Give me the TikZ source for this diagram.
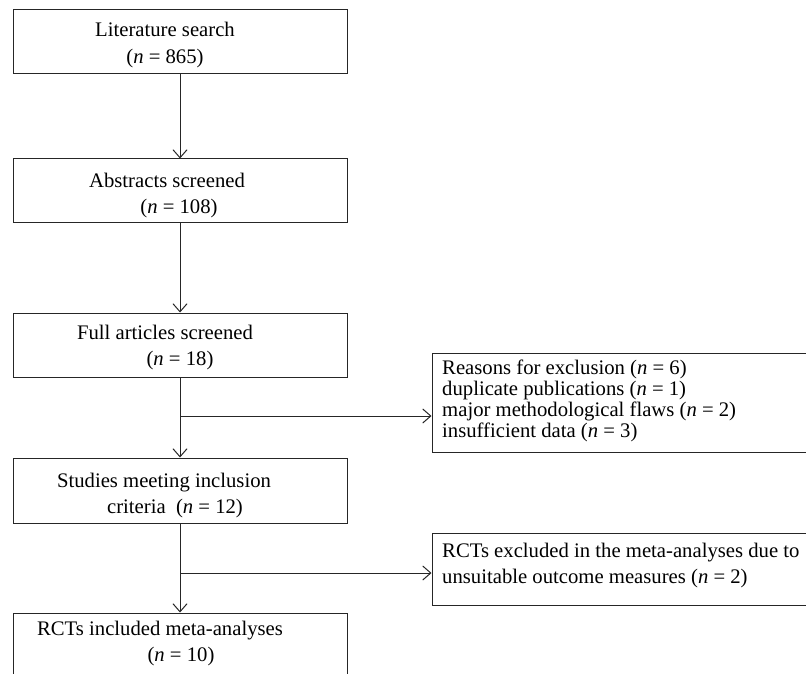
\documentclass[tikz,border=0pt]{standalone}
\usepackage{fontspec}
\setmainfont{Liberation Serif}
\usetikzlibrary{arrows.meta}
\tikzset{
  box/.style={draw=black!85, line width=1pt, inner sep=0pt, minimum width=334pt},
  xbox/.style={draw=black!85, line width=1pt, inner sep=0pt, minimum width=600pt},
  txt/.style={anchor=base, inner sep=0pt, font=\fontsize{20.7}{24}\selectfont},
  ltxt/.style={anchor=base west, inner sep=0pt, font=\fontsize{20.7}{24}\selectfont},
  conn/.style={draw=black!85, line width=1pt},
  arr/.style={conn, -{Straight Barb[length=8pt,width=14pt,line width=1pt]}}
}
\begin{document}
\begin{tikzpicture}[x=1pt,y=-1pt]
\useasboundingbox (0,0) rectangle (806,674);
\clip (0,0) rectangle (806,674);
% main boxes
\node[box, minimum height=64pt] (b1) at (180,42) {};
\node[box, minimum height=63pt] (b2) at (180,190.5) {};
\node[box, minimum height=64pt] (b3) at (180,345) {};
\node[box, minimum height=65pt] (b4) at (180,490.5) {};
\node[box, minimum height=87pt] (b5) at (180,656.5) {};
% side boxes (open to the right, running off the page)
\node[xbox, minimum height=99pt] (r1) at (732,402.5) {};
\node[xbox, minimum height=72pt] (r2) at (732,569) {};
% texts
\node[txt] (t1a) at (165,37) {Literature search};
\node[txt] (t1b) at (165,64) {(\textit{n} = 865)};
\node[txt] (t2a) at (167,187) {Abstracts screened};
\node[txt] (t2b) at (179,213) {(\textit{n} = 108)};
\node[txt] (t3a) at (165,339) {Full articles screened};
\node[txt] (t3b) at (180,365) {(\textit{n} = 18)};
\node[txt] (t4a) at (164,487) {Studies meeting inclusion};
\node[txt] (t4b) at (175,513) {criteria\ \ (\textit{n} = 12)};
\node[txt] (t5a) at (160,635) {RCTs included meta-analyses};
\node[txt] (t5b) at (181,661) {(\textit{n} = 10)};
\node[ltxt] (r1a) at (442,374) {Reasons for exclusion (\textit{n} = 6)};
\node[ltxt] (r1b) at (442,395) {duplicate publications (\textit{n} = 1)};
\node[ltxt] (r1c) at (442,416) {major methodological flaws (\textit{n} = 2)};
\node[ltxt] (r1d) at (442,437) {insufficient data (\textit{n} = 3)};
\node[ltxt] (r2a) at (442,557) {RCTs excluded in the meta-analyses due to};
\node[ltxt] (r2b) at (442,583) {unsuitable outcome measures (\textit{n} = 2)};
% connectors
\draw[arr] (b1.south) -- (b2.north);
\draw[arr] (b2.south) -- (b3.north);
\draw[arr] (b3.south) -- (b4.north);
\draw[arr] (b4.south) -- (b5.north);
\coordinate (j1) at (180,416);
\coordinate (j2) at (180,573);
\draw[arr] (j1) -- (j1 -| r1.west);
\draw[arr] (j2) -- (j2 -| r2.west);
\end{tikzpicture}
\end{document}
